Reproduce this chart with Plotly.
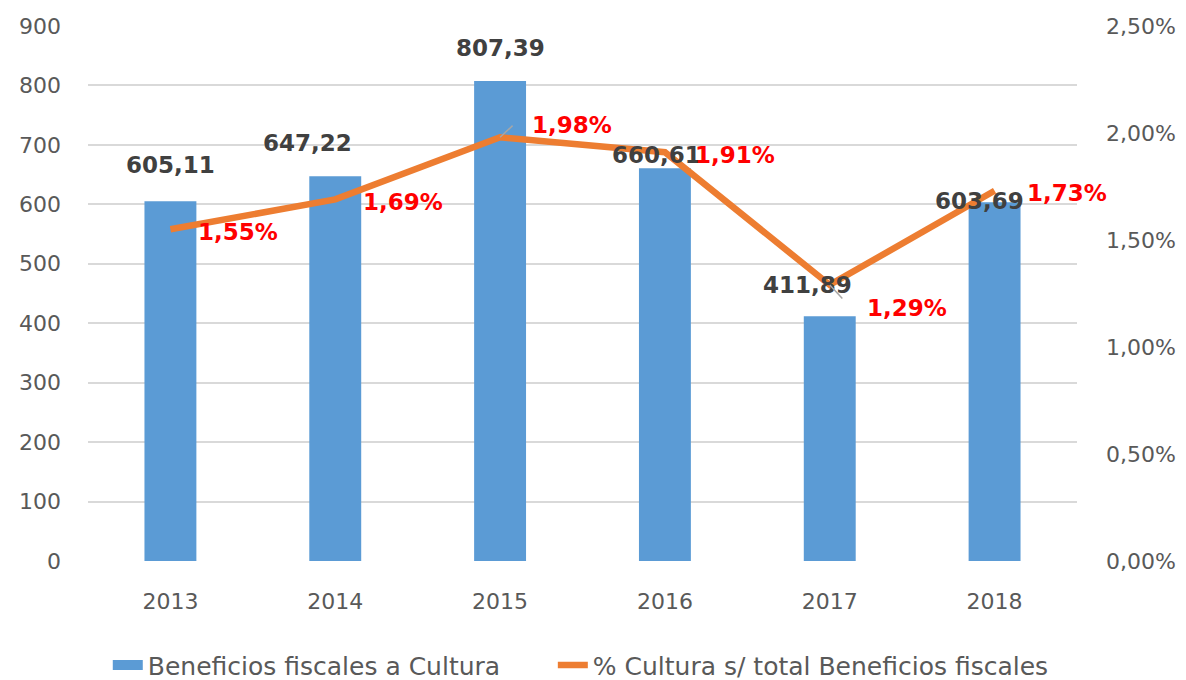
import plotly.graph_objects as go

years = ["2013", "2014", "2015", "2016", "2017", "2018"]
beneficios = [605.11, 647.22, 807.39, 660.61, 411.89, 603.69]
pct_cultura = [1.55, 1.69, 1.98, 1.91, 1.29, 1.73]
bar_labels = ["605,11", "647,22", "807,39", "660,61", "411,89", "603,69"]
pct_labels = ["1,55%", "1,69%", "1,98%", "1,91%", "1,29%", "1,73%"]
left_ticks = [0, 100, 200, 300, 400, 500, 600, 700, 800, 900]
right_ticks = [0, 0.5, 1.0, 1.5, 2.0, 2.5]
right_tick_text = ["0,00%", "0,50%", "1,00%", "1,50%", "2,00%", "2,50%"]
bar_name = "Beneficios fiscales a Cultura"
line_name = "% Cultura s/ total Beneficios fiscales"

FONT = "DejaVu Sans"
BLUE = "#5B9BD5"
ORANGE = "#ED7D31"
TICK = "#595959"

fig = go.Figure()
fig.add_trace(go.Bar(
    x=years, y=beneficios, name=bar_name, showlegend=False,
    marker=dict(color=BLUE, line=dict(width=0)), width=0.315, yaxis="y",
))
# legend entry for the bars (rectangular swatch); nbsp pad for item spacing
fig.add_trace(go.Scatter(
    x=[None], y=[None], name=bar_name + "\u00a0" * 6, mode="lines",
    line=dict(color=BLUE, width=14), yaxis="y",
))
fig.add_trace(go.Scatter(
    x=years, y=pct_cultura, name=line_name,
    mode="lines", line=dict(color=ORANGE, width=6.5), yaxis="y2",
))

# bar label offsets (xshift, yshift in px)
bar_off = [(0, 36), (-28, 33), (0, 33), (-8, 13), (-22, 31), (-15, 1)]
for i, (v, t, (dx, dy)) in enumerate(zip(beneficios, bar_labels, bar_off)):
    fig.add_annotation(x=i, y=v, xref="x", yref="y", text=f"<b>{t}</b>",
                       showarrow=False, xshift=dx, yshift=dy,
                       font=dict(family=FONT, size=23, color="#404040"))

# leader lines for two displaced percentage labels
for i, ax, ay in [(2, 14, -13), (4, 14, 15)]:
    fig.add_annotation(x=i, y=pct_cultura[i], xref="x", yref="y2", text="",
                       showarrow=True, arrowhead=0, arrowwidth=1.5,
                       arrowcolor="#A6A6A6", ax=ax, ay=ay, standoff=0)

pct_off = [(26, -3), (26, -3), (30, 12), (28, -3), (35, -23), (30, -2)]
for i, (v, t, (dx, dy)) in enumerate(zip(pct_cultura, pct_labels, pct_off)):
    fig.add_annotation(x=i, y=v, xref="x", yref="y2", text=f"<b>{t}</b>",
                       showarrow=False, xanchor="left", xshift=dx, yshift=dy,
                       font=dict(family=FONT, size=23, color="#FF0000"))

fig.update_layout(
    width=1186, height=680,
    margin=dict(l=88, r=109, t=26, b=119, autoexpand=False),
    paper_bgcolor="white", plot_bgcolor="white",
    font=dict(family=FONT, size=22, color=TICK),
    bargap=0.69,
    xaxis=dict(type="category", range=[-0.5, 5.5], showgrid=False,
               showline=False, ticks="", automargin=False,
               ticklabelstandoff=25,
               tickfont=dict(size=22, color=TICK)),
    yaxis=dict(range=[0, 900], tickvals=left_ticks, showgrid=True,
               gridcolor="#D9D9D9", gridwidth=1.5, zeroline=False,
               ticks="", ticklabelstandoff=26, automargin=False,
               tickfont=dict(size=22, color=TICK)),
    yaxis2=dict(range=[0, 2.5], tickvals=right_ticks, ticktext=right_tick_text,
                overlaying="y", side="right", showgrid=False, zeroline=False,
                ticks="", ticklabelstandoff=28, automargin=False,
                tickfont=dict(size=22, color=TICK)),
    legend=dict(orientation="h", x=0.020, xanchor="left", y=-0.195,
                yanchor="middle", font=dict(size=25, color=TICK),
                itemwidth=30, tracegroupgap=0),
    showlegend=True,
)

fig.write_html("out.html", config={"displayModeBar": False},
               post_script="document.body.style.margin='0';")
